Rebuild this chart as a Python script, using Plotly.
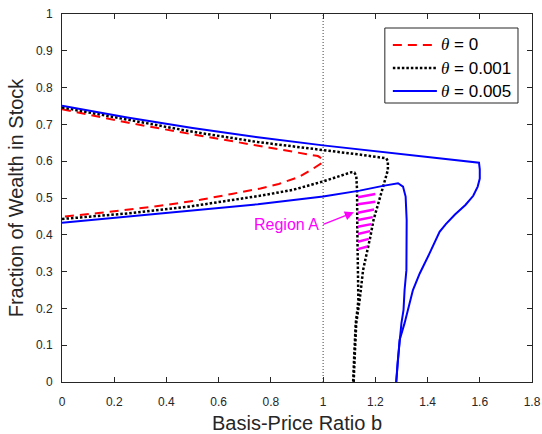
import plotly.graph_objects as go

# ---- data ----
# theta = 0 : single curve, upper branch -> curl at b~1 -> lower branch
red_b = [0.0, 0.25, 0.5, 0.77, 0.91, 0.98, 0.997, 0.993, 0.96, 0.91, 0.83, 0.76,
         0.65, 0.53, 0.40, 0.27, 0.14, 0.0]
red_w = [0.741, 0.705, 0.673, 0.640, 0.622, 0.614, 0.606, 0.594, 0.579, 0.558, 0.538, 0.526,
         0.511, 0.495, 0.481, 0.469, 0.459, 0.449]

# theta = 0.001 : upper branch + outer descending side
blk_up_b = [0.0, 0.25, 0.5, 0.75, 1.0, 1.14, 1.242, 1.248, 1.248, 1.229, 1.210, 1.193,
            1.181, 1.166, 1.153, 1.140, 1.135, 1.127, 1.121, 1.117]
blk_up_w = [0.746, 0.712, 0.680, 0.652, 0.631, 0.618, 0.608, 0.600, 0.576, 0.531, 0.486, 0.440,
            0.395, 0.350, 0.304, 0.223, 0.200, 0.160, 0.069, 0.0]
# theta = 0.001 : lower branch + inner descending side
blk_lo_b = [0.0, 0.25, 0.5, 0.757, 0.884, 1.0, 1.108, 1.120, 1.127, 1.130, 1.131, 1.133,
            1.135, 1.132, 1.125, 1.119, 1.115]
blk_lo_w = [0.443, 0.458, 0.478, 0.506, 0.522, 0.545, 0.570, 0.569, 0.560, 0.522, 0.413, 0.304,
            0.223, 0.200, 0.160, 0.069, 0.0]

# theta = 0.005 : upper branch + outer descending side
blu_up_b = [0.0, 0.25, 0.5, 0.75, 1.0, 1.14, 1.24, 1.45, 1.49, 1.597, 1.600, 1.600, 1.592,
            1.575, 1.545, 1.505, 1.470, 1.446, 1.408, 1.370, 1.344, 1.325, 1.312, 1.293,
            1.285, 1.280]
blu_up_w = [0.751, 0.719, 0.690, 0.665, 0.643, 0.632, 0.624, 0.607, 0.604, 0.596, 0.578, 0.553,
            0.531, 0.506, 0.481, 0.455, 0.429, 0.408, 0.350, 0.295, 0.250, 0.196, 0.160, 0.114,
            0.050, 0.0]
# theta = 0.005 : lower branch + inner descending side
blu_lo_b = [0.0, 0.25, 0.5, 0.75, 1.0, 1.14, 1.229, 1.267, 1.287, 1.306, 1.316, 1.320,
            1.319, 1.312, 1.308, 1.300, 1.293, 1.285, 1.280]
blu_lo_w = [0.433, 0.449, 0.467, 0.483, 0.504, 0.520, 0.533, 0.538, 0.540, 0.531, 0.504, 0.440,
            0.304, 0.250, 0.196, 0.160, 0.114, 0.050, 0.0]

# Region A hatch segments (left b, left w, right b, right w)
hatch_lb = [1.133, 1.133, 1.133, 1.133, 1.133, 1.133, 1.133, 1.133]
hatch_lw = [0.502, 0.483, 0.460, 0.440, 0.422, 0.402, 0.381, 0.361]
hatch_rb = [1.200, 1.200, 1.195, 1.190, 1.185, 1.180, 1.175, 1.170]
hatch_rw = [0.511, 0.490, 0.469, 0.448, 0.429, 0.410, 0.389, 0.368]

x_ticks = [0, 0.2, 0.4, 0.6, 0.8, 1.0, 1.2, 1.4, 1.6, 1.8]
y_ticks = [0, 0.1, 0.2, 0.3, 0.4, 0.5, 0.6, 0.7, 0.8, 0.9, 1.0]

legend_labels = ["0", "0.001", "0.005"]

FONT = "Liberation Sans, Arial, sans-serif"
TH = "<span style=\"font-family:'Liberation Serif'\"><i>θ</i></span>"

RED = dict(color="#FF0000", width=2, dash="9px,6px")
BLK = dict(color="#000000", width=2.5, dash="2.5px,2px")
BLU = dict(color="#0000FF", width=2)

fig = go.Figure()

# vertical reference line at b = 1
fig.add_trace(go.Scatter(x=[1, 1], y=[0, 1], mode="lines", showlegend=False,
                         hoverinfo="skip",
                         line=dict(color="#404040", width=1, dash="1px,2px")))

fig.add_trace(go.Scatter(x=red_b, y=red_w, mode="lines", showlegend=False,
                         name="θ = " + legend_labels[0], line=RED))

fig.add_trace(go.Scatter(x=blk_up_b + [None] + blk_lo_b,
                         y=blk_up_w + [None] + blk_lo_w, showlegend=False,
                         mode="lines", name="θ = " + legend_labels[1], connectgaps=False,
                         line=BLK))

fig.add_trace(go.Scatter(x=blu_up_b + [None] + blu_lo_b,
                         y=blu_up_w + [None] + blu_lo_w, showlegend=False,
                         mode="lines", name="θ = " + legend_labels[2], connectgaps=False,
                         line=BLU))

hx, hy = [], []
for lb, lw, rb, rw in zip(hatch_lb, hatch_lw, hatch_rb, hatch_rw):
    hx += [lb, rb, None]
    hy += [lw, rw, None]
fig.add_trace(go.Scatter(x=hx, y=hy, mode="lines", showlegend=False,
                         line=dict(color="#FF00FF", width=2.5)))

# Region A label and arrow
fig.add_annotation(x=0.99, y=0.427, xref="x", yref="y", text="Region A",
                   showarrow=False, xanchor="right", yanchor="middle",
                   font=dict(family=FONT, size=16, color="#FF00FF"))
fig.add_annotation(x=1.118, y=0.461, ax=0.995, ay=0.427, xref="x", yref="y",
                   axref="x", ayref="y", text="", showarrow=True,
                   arrowhead=2, arrowsize=1.4, arrowwidth=1.3, arrowcolor="#FF00FF")

# ---- legend box (drawn in paper coordinates, MATLAB-style) ----
L, R, T, B = 62.5, 532.0, 14.0, 382.0
def px(x):
    return (x - L) / (R - L)
def py(y):
    return (B - y) / (B - T)

fig.add_shape(type="rect", xref="paper", yref="paper",
              x0=px(385), x1=px(518), y0=py(103), y1=py(28),
              line=dict(color="#262626", width=1), fillcolor="white", layer="above")
rows = [45, 68, 91]
for row, lab, ln in zip(rows, legend_labels, [RED, BLK, BLU]):
    fig.add_shape(type="line", xref="paper", yref="paper",
                  x0=px(393), x1=px(437), y0=py(row), y1=py(row),
                  line=ln, layer="above")
    fig.add_annotation(x=px(439), y=py(row), xref="paper", yref="paper",
                       text=TH + " = " + lab, showarrow=False,
                       xanchor="left", yanchor="middle",
                       font=dict(family=FONT, size=17, color="#000000"))

axis_common = dict(showgrid=False, zeroline=False, showline=True, linecolor="#262626",
                   linewidth=1, mirror="ticks", ticks="inside", ticklen=5, automargin=False,
                   tickcolor="#262626", tickfont=dict(family=FONT, size=12, color="#262626"))

fig.update_xaxes(range=[0, 1.8], tickvals=x_ticks, ticklabelstandoff=9,
                 title=dict(text="Basis-Price Ratio b", standoff=9,
                            font=dict(family=FONT, size=20, color="#262626")),
                 **axis_common)
fig.update_yaxes(range=[0, 1], tickvals=y_ticks, ticklabelstandoff=6,
                 title=dict(text="Fraction of Wealth in Stock", standoff=6,
                            font=dict(family=FONT, size=20, color="#262626")),
                 **axis_common)

fig.update_layout(
    width=542, height=434,
    margin=dict(l=62, r=10, t=14, b=52),
    paper_bgcolor="white", plot_bgcolor="white",
    font=dict(family=FONT, color="#262626"),
    showlegend=False,
)

fig.write_html("out.html")
